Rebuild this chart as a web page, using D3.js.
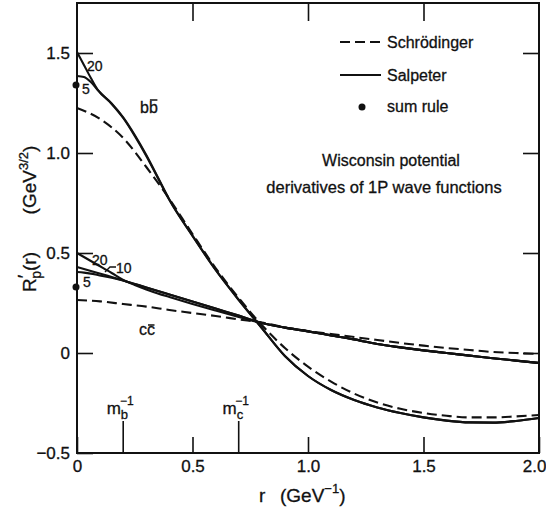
<!DOCTYPE html>
<html>
<head>
<meta charset="utf-8">
<script src="https://cdn.jsdelivr.net/npm/d3@7"></script>
<style>
  body { margin: 0; background: #fff; }
  svg { display: block; }
  text { font-family: "Liberation Sans", Arial, sans-serif; fill: #111; stroke: #111; stroke-width: 0.3px; }
</style>
</head>
<body>
<svg id="chart" width="546" height="512"></svg>
<script>
// ---- data: derivatives of 1P radial wave functions, R'_p(r) in GeV^{3/2} ----
const rGrid = [0.0, 0.1, 0.2, 0.3, 0.4, 0.5, 0.6, 0.7, 0.8, 0.9, 1.0,
               1.1, 1.2, 1.3, 1.4, 1.5, 1.6, 1.7, 1.8, 1.9, 2.0];

// Schrödinger solutions
const bbSchrodinger = [1.225, 1.17, 1.075, 0.93, 0.77, 0.595, 0.425, 0.275, 0.14, 0.025, -0.068,
                       -0.143, -0.203, -0.248, -0.279, -0.30, -0.314, -0.322, -0.322, -0.317, -0.31];
const ccSchrodinger = [0.265, 0.258, 0.245, 0.232, 0.215, 0.20, 0.185, 0.168, 0.152, 0.128, 0.11,
                       0.095, 0.08, 0.065, 0.05, 0.037, 0.025, 0.015, 0.005, 0.0, -0.005];

// Salpeter solutions (curves labelled by the cutoff parameter 5, 10, 20)
const rSalp = [0.0, 0.03, 0.06, 0.09, 0.15, 0.2, 0.25, 0.3, 0.35, 0.4, 0.5, 0.6, 0.7, 0.8, 0.9, 1.0,
               1.1, 1.2, 1.3, 1.4, 1.5, 1.6, 1.7, 1.8, 1.9, 2.0];
const bbSalpeter20 = [1.505, 1.44, 1.375, 1.315, 1.248, 1.178, 1.09, 0.99, 0.879, 0.767, 0.587, 0.417, 0.267,
                      0.125, -0.015, -0.115, -0.185, -0.235, -0.272, -0.30, -0.322, -0.338, -0.347, -0.348, -0.34, -0.325];
const bbSalpeter5  = [1.385, 1.38, 1.355, 1.315, 1.245, 1.175, 1.085, 0.985, 0.875, 0.765, 0.585, 0.415, 0.265,
                      0.125, -0.015, -0.115, -0.185, -0.235, -0.272, -0.30, -0.322, -0.338, -0.347, -0.348, -0.34, -0.325];
const ccSalpeter20 = [0.50, 0.48, 0.46, 0.44, 0.40, 0.365, 0.34, 0.318, 0.298, 0.28, 0.245, 0.212, 0.18,
                      0.15, 0.127, 0.108, 0.088, 0.068, 0.045, 0.028, 0.013, 0.0, -0.013, -0.026, -0.038, -0.05];
const ccSalpeter10 = [0.43, 0.42, 0.41, 0.40, 0.38, 0.362, 0.345, 0.328, 0.31, 0.293, 0.258, 0.222, 0.187,
                      0.15, 0.127, 0.108, 0.088, 0.068, 0.045, 0.028, 0.013, 0.0, -0.013, -0.026, -0.038, -0.05];
const ccSalpeter5  = [0.405, 0.402, 0.397, 0.39, 0.376, 0.362, 0.345, 0.328, 0.31, 0.293, 0.258, 0.222, 0.187,
                      0.15, 0.127, 0.108, 0.088, 0.068, 0.045, 0.028, 0.013, 0.0, -0.013, -0.026, -0.038, -0.05];

// sum-rule values at r = 0
const sumRule = [1.34, 0.33];

// inverse quark masses marked on the r axis
const massMarks = [{ q: "b", r: 0.2 }, { q: "c", r: 0.7 }];

const xTicks = [0, 0.5, 1.0, 1.5, 2.0];
const xTickLabels = ["0", "0.5", "1.0", "1.5", "2.0"];
const yTicks = [-0.5, 0, 0.5, 1.0, 1.5];
const yTickLabels = ["\u22120.5", "0", "0.5", "1.0", "1.5"];

// ---- layout ----
const svg = d3.select("#chart");
const x = d3.scaleLinear().domain([0, 2]).range([77, 539]);
const y = d3.scaleLinear().domain([-0.5, 1.75]).range([453, 3]);
const ink = "#111";

// axes: inward ticks on all four sides, labels on bottom and left
const fmtX = d => xTickLabels[xTicks.indexOf(d)];
const fmtY = d => yTickLabels[yTicks.indexOf(d)];

function styleAxis(g) {
  g.select(".domain").remove();
  g.selectAll("line").attr("stroke", ink).attr("stroke-width", 1.6);
  g.selectAll("text").attr("font-size", 17).attr("fill", ink)
    .attr("font-family", "\"Liberation Sans\", Arial, sans-serif");
}

const xAxisG = svg.append("g").attr("transform", `translate(0,${y(-0.5)})`)
  .call(d3.axisBottom(x).tickValues(xTicks).tickFormat(fmtX).tickSizeInner(-16).tickSizeOuter(0).tickPadding(7))
  .call(styleAxis);
// the last label sits at the page edge: right-align it so it stays inside
xAxisG.selectAll(".tick text").filter(d => d === 2).attr("text-anchor", "end").attr("dx", 7);

svg.append("g").attr("transform", `translate(${x(0)},0)`)
  .call(d3.axisLeft(y).tickValues(yTicks).tickFormat(fmtY).tickSizeInner(-16).tickSizeOuter(0).tickPadding(7))
  .call(styleAxis);
svg.append("g").attr("transform", `translate(${x(2)},0)`)
  .call(d3.axisRight(y).tickValues([0, 0.5, 1.0, 1.5]).tickFormat("").tickSizeInner(-16).tickSizeOuter(0))
  .call(styleAxis);
svg.append("g").attr("transform", `translate(0,${y(1.75)})`)
  .call(d3.axisTop(x).tickValues([0.5, 1.0, 1.5]).tickFormat("").tickSizeInner(-18).tickSizeOuter(0))
  .call(styleAxis);

// frame
svg.append("rect")
  .attr("x", x(0)).attr("y", y(1.75))
  .attr("width", x(2) - x(0)).attr("height", y(-0.5) - y(1.75))
  .attr("fill", "none").attr("stroke", ink).attr("stroke-width", 2);

// inverse-mass markers
massMarks.forEach(m => {
  svg.append("line")
    .attr("x1", x(m.r)).attr("x2", x(m.r))
    .attr("y1", y(-0.5)).attr("y2", y(-0.5) - 32)
    .attr("stroke", ink).attr("stroke-width", 1.6);
  const t = svg.append("text").attr("x", x(m.r) - 3).attr("y", 414)
    .attr("text-anchor", "middle").attr("font-size", 17);
  t.append("tspan").text("m");
  t.append("tspan").attr("font-size", 13).attr("dy", 5).text(m.q);
  t.append("tspan").attr("font-size", 12).attr("dx", -8).attr("dy", -14).text("\u22121");
});

// curves
const line = d3.line().x(d => x(d[0])).y(d => y(d[1])).curve(d3.curveMonotoneX);
const pairs = (rs, vs) => rs.map((r, i) => [r, vs[i]]);
const plot = svg.append("g").attr("fill", "none").attr("stroke", ink).attr("stroke-width", 2.1);

[bbSchrodinger, ccSchrodinger].forEach(vs => {
  plot.append("path").attr("d", line(pairs(rGrid, vs)))
    .attr("stroke-dasharray", "10,5");
});
[bbSalpeter20, bbSalpeter5, ccSalpeter20, ccSalpeter10, ccSalpeter5].forEach(vs => {
  plot.append("path").attr("d", line(pairs(rSalp, vs)));
});

// sum-rule points
svg.append("g").selectAll("circle").data(sumRule).join("circle")
  .attr("cx", x(0) - 1).attr("cy", d => y(d)).attr("r", 3.5).attr("fill", ink);

// curve parameter labels
const small = [
  { t: "20", x: 87, y: 71 }, { t: "5", x: 82, y: 94 },
  { t: "20", x: 92, y: 265 }, { t: "10", x: 116, y: 273 }, { t: "5", x: 83, y: 287 }
];
svg.append("g").selectAll("text").data(small).join("text")
  .attr("x", d => d.x).attr("y", d => d.y).attr("font-size", 14).text(d => d.t);
svg.append("path").attr("d", "M105,272 L110,267 L116,267")
  .attr("fill", "none").attr("stroke", ink).attr("stroke-width", 1.4);

// system labels with antiquark bar
function quarkPair(q, px, py) {
  const t = svg.append("text").attr("x", px).attr("y", py).attr("font-size", 16);
  t.append("tspan").text(q);
  const bar = t.append("tspan").text(q);
  const bb = bar.node().getBBox();
  const top = q === "b" ? bb.y + 1 : bb.y + 4;
  svg.append("line").attr("x1", bb.x + 1).attr("x2", bb.x + bb.width - 0.5)
    .attr("y1", top).attr("y2", top).attr("stroke", ink).attr("stroke-width", 1.5);
}
quarkPair("b", 140, 113);
quarkPair("c", 139, 335);

// legend
const lg = svg.append("g");
lg.append("line").attr("x1", 340).attr("x2", 381).attr("y1", 42).attr("y2", 42)
  .attr("stroke", ink).attr("stroke-width", 2).attr("stroke-dasharray", "10,5");
lg.append("line").attr("x1", 340).attr("x2", 381).attr("y1", 75).attr("y2", 75)
  .attr("stroke", ink).attr("stroke-width", 2);
lg.append("circle").attr("cx", 362).attr("cy", 107).attr("r", 3.5).attr("fill", ink);
[["Schr\u00f6dinger", 48], ["Salpeter", 81], ["sum rule", 112]].forEach(([s, yy]) => {
  lg.append("text").attr("x", 387).attr("y", yy).attr("font-size", 16).text(s);
});

// annotation
svg.append("text").attr("x", 391).attr("y", 166).attr("text-anchor", "middle")
  .attr("font-size", 16).text("Wisconsin potential");
svg.append("text").attr("x", 384).attr("y", 193).attr("text-anchor", "middle")
  .attr("font-size", 16.5).text("derivatives of 1P wave functions");

// axis titles
svg.append("text").attr("x", 259).attr("y", 502).attr("font-size", 19).text("r");
const xt = svg.append("text").attr("x", 280).attr("y", 502).attr("font-size", 19);
xt.append("tspan").text("(GeV");
xt.append("tspan").attr("font-size", 13).attr("dy", -9).text("\u22121");
xt.append("tspan").attr("dy", 9).text(")");

const yt1 = svg.append("text").attr("transform", "translate(36,272) rotate(-90)")
  .attr("text-anchor", "middle").attr("font-size", 19);
yt1.append("tspan").text("R");
yt1.append("tspan").attr("dy", -5).text("\u2032");
yt1.append("tspan").attr("font-size", 14).attr("dx", -4).attr("dy", 10).text("p");
yt1.append("tspan").attr("dy", -5).text("(r)");
const yt2 = svg.append("text").attr("transform", "translate(36,180) rotate(-90)")
  .attr("text-anchor", "middle").attr("font-size", 19);
yt2.append("tspan").text("(GeV");
yt2.append("tspan").attr("font-size", 13).attr("dy", -8).text("3/2");
yt2.append("tspan").attr("dy", 8).text(")");
</script>
</body>
</html>
